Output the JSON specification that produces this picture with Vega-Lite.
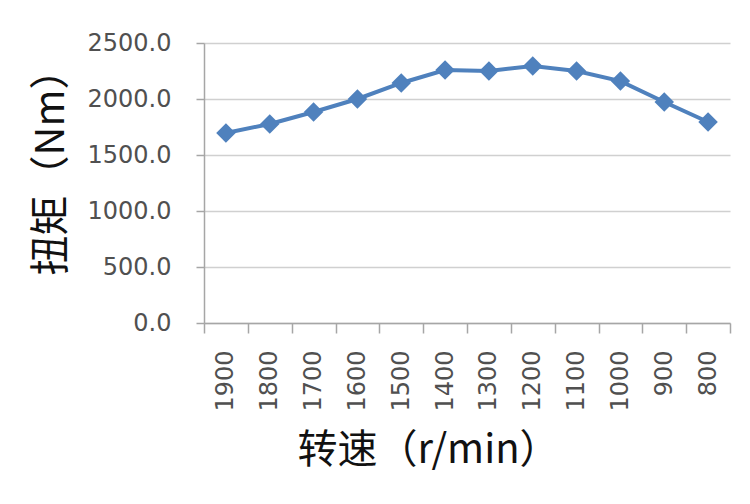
{
  "$schema": "https://vega.github.io/schema/vega-lite/v6.json",
  "width": 526,
  "height": 280,
  "autosize": "none",
  "padding": {"left": 204, "top": 43, "right": 20, "bottom": 181},
  "background": "white",
  "config": {"view": {"stroke": null}},
  "data": {
    "values": [
      {"speed": "1900", "torque": 1696},
      {"speed": "1800", "torque": 1777},
      {"speed": "1700", "torque": 1884},
      {"speed": "1600", "torque": 2000},
      {"speed": "1500", "torque": 2143},
      {"speed": "1400", "torque": 2259},
      {"speed": "1300", "torque": 2250},
      {"speed": "1200", "torque": 2295},
      {"speed": "1100", "torque": 2250},
      {"speed": "1000", "torque": 2160},
      {"speed": "900", "torque": 1973},
      {"speed": "800", "torque": 1795}
    ]
  },
  "encoding": {
    "x": {
      "field": "speed",
      "type": "ordinal",
      "sort": null,
      "scale": {"paddingInner": 0, "paddingOuter": 0},
      "axis": {
        "title": "转速（r/min）",
        "titleFont": "Noto Sans CJK SC",
        "titleFontSize": 40,
        "titleFontWeight": "normal",
        "titleColor": "#111111",
        "titleX": 224,
        "titleY": 127,
        "titleAlign": "center",
        "titleBaseline": "middle",
        "labelAngle": -90,
        "labelFont": "DejaVu Sans",
        "labelFontSize": 24,
        "labelColor": "#505050",
        "labelPadding": 17,
        "tickBand": "extent",
        "tickSize": 10,
        "tickColor": "#a6a6a6",
        "tickWidth": 1.5,
        "domainColor": "#a6a6a6",
        "domainWidth": 1.5,
        "grid": false
      }
    },
    "y": {
      "field": "torque",
      "type": "quantitative",
      "scale": {"domain": [0, 2500]},
      "axis": {
        "title": "扭矩（Nm）",
        "titleFont": "Noto Sans CJK SC",
        "titleFontSize": 40,
        "titleFontWeight": "normal",
        "titleColor": "#111111",
        "titleX": -153,
        "titleY": 119,
        "titleAlign": "center",
        "titleBaseline": "middle",
        "values": [0, 500, 1000, 1500, 2000, 2500],
        "format": ".1f",
        "labelFont": "DejaVu Sans",
        "labelFontSize": 24,
        "labelColor": "#505050",
        "labelPadding": 25,
        "tickSize": 8,
        "tickColor": "#a6a6a6",
        "tickWidth": 1.5,
        "domainColor": "#a6a6a6",
        "domainWidth": 1.5,
        "grid": true,
        "gridColor": "#d0d0d0",
        "gridWidth": 1.5
      }
    }
  },
  "layer": [
    {"mark": {"type": "line", "color": "#4f81bd", "strokeWidth": 4}},
    {"mark": {"type": "point", "shape": "diamond", "filled": true, "color": "#4f81bd", "opacity": 1, "size": 380}}
  ]
}
